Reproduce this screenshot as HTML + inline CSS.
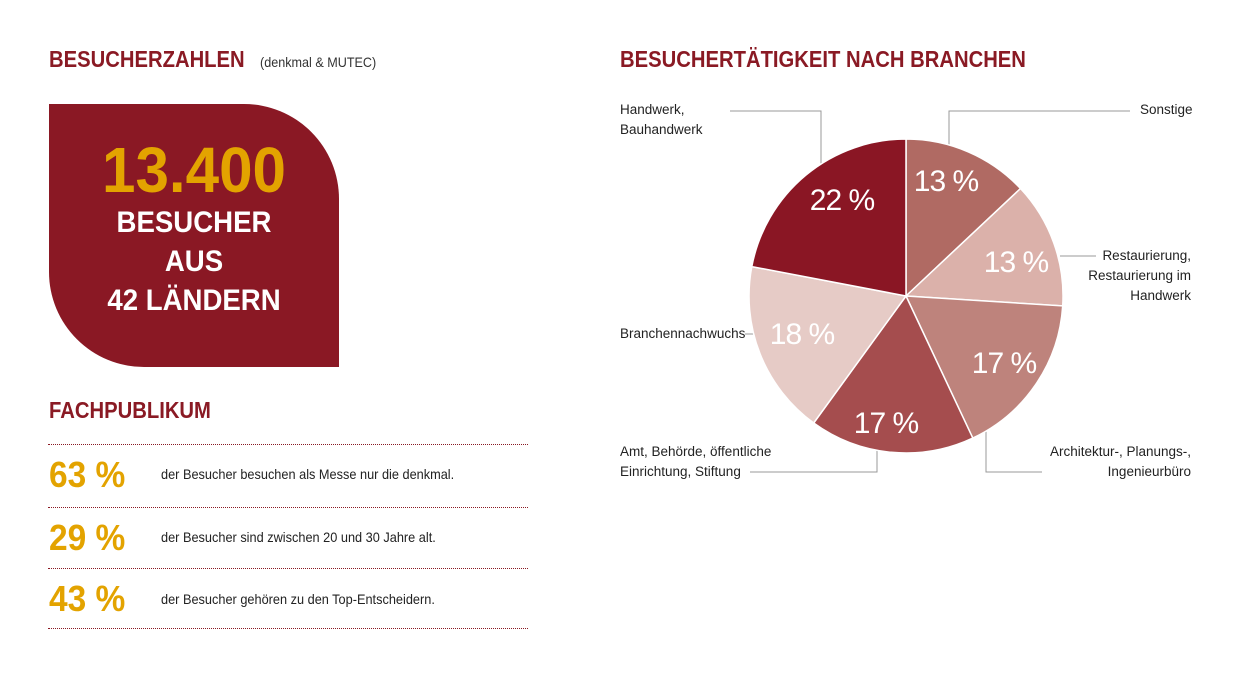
<!DOCTYPE html>
<html><head><meta charset="utf-8"><style>
body{margin:0;width:1240px;height:698px;background:#fff;font-family:"Liberation Sans",sans-serif;position:relative;overflow:hidden}
.a{position:absolute;white-space:nowrap}
.h{color:#8a1a24;font-weight:bold;font-size:23px;transform:scaleX(.88);transform-origin:left}
.box{position:absolute;left:49px;top:104px;width:290px;height:263px;background:#8a1824;border-radius:0 95px 0 95px}
.dl{position:absolute;left:48px;width:480px;border-top:1px dotted #8a1a24}
.pc{color:#e3a300;font-size:36px;font-weight:bold;transform:scaleX(.93);transform-origin:left}
.tx{font-size:14px;color:#222;transform:scaleX(.91);transform-origin:left}
.lb{font-size:13.5px;color:#222;line-height:20px}
</style></head><body>
<div class="a h" style="left:49px;top:46px">BESUCHERZAHLEN</div>
<div class="a" style="left:260px;top:54px;font-size:14px;color:#333;transform:scaleX(.9);transform-origin:left">(denkmal &amp; MUTEC)</div>
<div class="box"></div>
<div class="a" style="left:49px;width:290px;top:133px;text-align:center;color:#e3a300;font-weight:bold;font-size:64px;transform:scaleX(.94)">13.400</div>
<div class="a" style="left:49px;width:290px;top:203px;text-align:center;color:#fff;font-weight:bold;font-size:30px;line-height:39px;transform:scaleX(.92)">BESUCHER<br>AUS<br>42 LÄNDERN</div>
<div class="a h" style="left:49px;top:397px">FACHPUBLIKUM</div>
<div class="dl" style="top:444px"></div><div class="dl" style="top:507px"></div><div class="dl" style="top:568px"></div><div class="dl" style="top:628px"></div>
<div class="a pc" style="left:49px;top:454px">63 %</div><div class="a tx" style="left:161px;top:466px">der Besucher besuchen als Messe nur die denkmal.</div>
<div class="a pc" style="left:49px;top:517px">29 %</div><div class="a tx" style="left:161px;top:529px">der Besucher sind zwischen 20 und 30 Jahre alt.</div>
<div class="a pc" style="left:49px;top:578px">43 %</div><div class="a tx" style="left:161px;top:591px">der Besucher gehören zu den Top-Entscheidern.</div>
<div class="a h" style="left:620px;top:46px">BESUCHERTÄTIGKEIT NACH BRANCHEN</div>
<svg class="a" style="left:0;top:0" width="1240" height="698">
<g stroke="#999" stroke-width="1" fill="none">
<polyline points="730,111 821,111 821,165"/>
<polyline points="1130,111 949,111 949,145"/>
<polyline points="1060,256 1096,256"/>
<polyline points="986,430 986,472 1042,472"/>
<polyline points="750,472 877,472 877,450"/>
<polyline points="745,334 754,334"/>
</g>
<g stroke="#fff" stroke-width="1.5">
<path d="M906,296 L906,139 A157,157 0 0 1 1020.5,188.5Z" fill="#b06a63"/>
<path d="M906,296 L1020.5,188.5 A157,157 0 0 1 1062.7,305.9Z" fill="#dbb1aa"/>
<path d="M906,296 L1062.7,305.9 A157,157 0 0 1 972.8,438.1Z" fill="#be837c"/>
<path d="M906,296 L972.8,438.1 A157,157 0 0 1 813.7,423Z" fill="#a54d4e"/>
<path d="M906,296 L813.7,423 A157,157 0 0 1 751.8,266.6Z" fill="#e6cbc6"/>
<path d="M906,296 L751.8,266.6 A157,157 0 0 1 906,139Z" fill="#8a1624"/>
</g>
<g fill="#fff" font-family="Liberation Sans,sans-serif" font-size="30" text-anchor="middle" letter-spacing="-1">
<text x="842" y="210">22 %</text><text x="946" y="191">13 %</text><text x="1016" y="272">13 %</text>
<text x="1004" y="373">17 %</text><text x="886" y="433">17 %</text><text x="802" y="344">18 %</text>
</g>
</svg>
<div class="a lb" style="left:620px;top:100px">Handwerk,<br>Bauhandwerk</div>
<div class="a lb" style="left:1140px;top:100px">Sonstige</div>
<div class="a lb" style="right:49px;top:246px;text-align:right">Restaurierung,<br>Restaurierung im<br>Handwerk</div>
<div class="a lb" style="left:620px;top:324px">Branchennachwuchs</div>
<div class="a lb" style="left:620px;top:442px">Amt, Behörde, öffentliche<br>Einrichtung, Stiftung</div>
<div class="a lb" style="right:49px;top:442px;text-align:right">Architektur-, Planungs-,<br>Ingenieurbüro</div>
</body></html>
